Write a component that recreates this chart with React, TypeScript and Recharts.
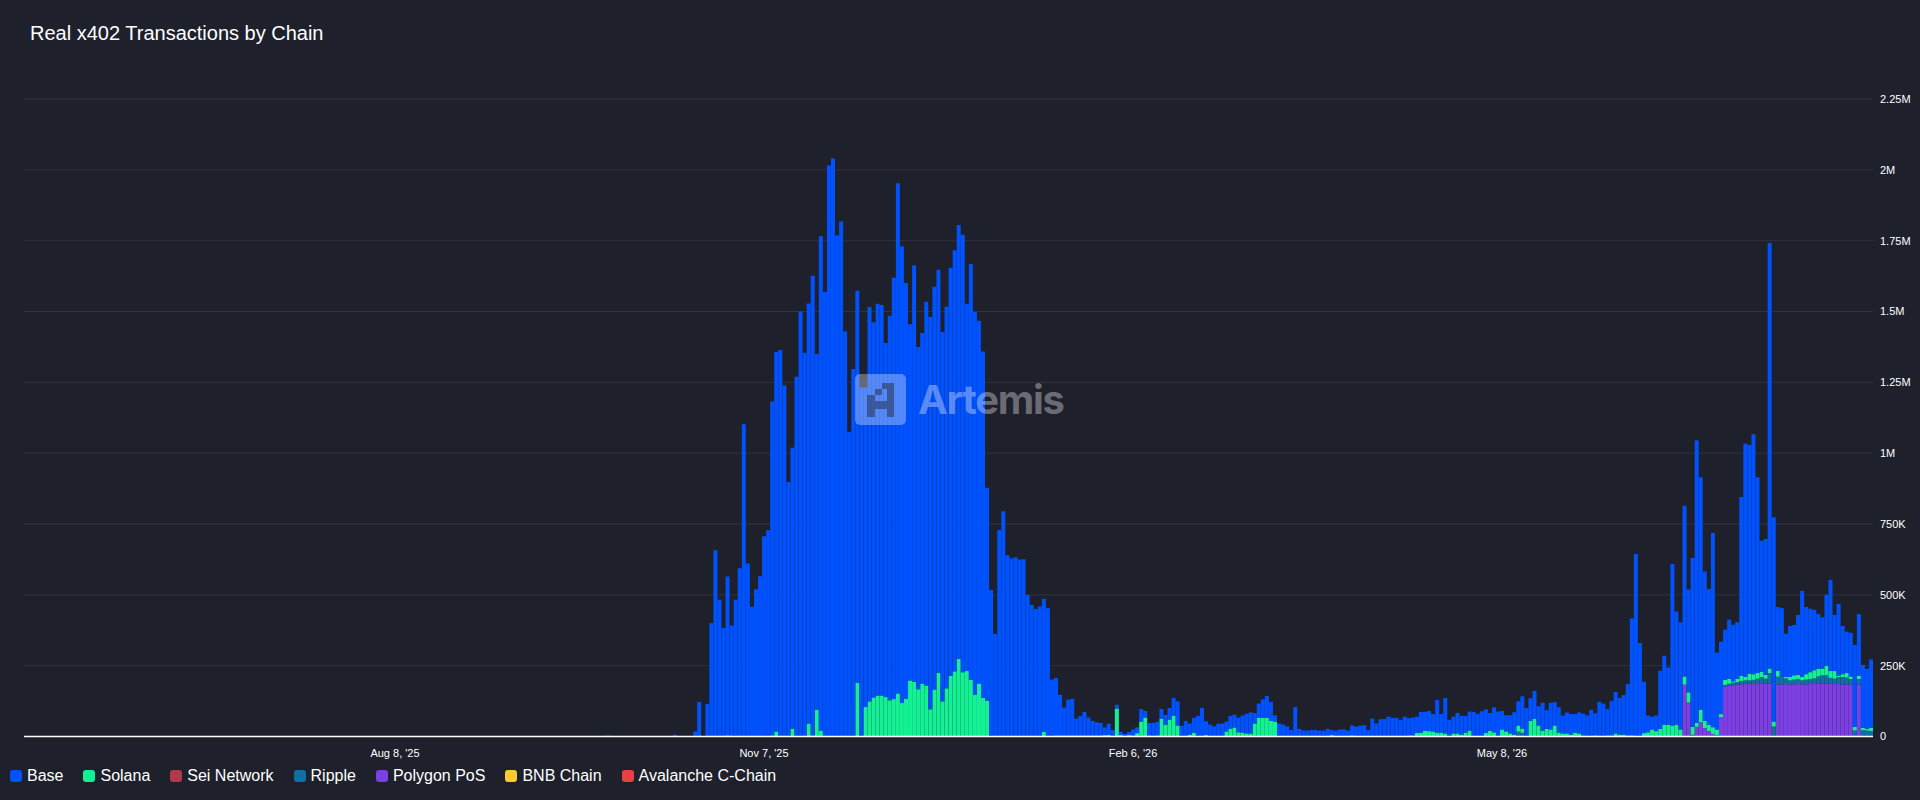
import { Bar, BarChart, CartesianGrid, Legend, XAxis, YAxis } from "recharts";

// Daily values in thousands of transactions.
// Each list starts at its *_START day (day 0 = May 9 '25); missing days are zero.
// The lists hold the height of the stack top for that series, bottom to top:
// polygon < ripple < solana < total.
const TOTAL_START = 143;
const totalTop = [
  3, 3, 0, 0, 0, 0, 0, 0, 0, 0, 0, 0, 0, 0, 0, 0, 0, 6, 0, 0, 0, 0,
  18, 122, 0, 115, 400, 657, 483, 383, 565, 392,
  483, 594, 1102, 611, 458, 520, 566, 707, 728, 1182,
  1357, 1364, 1239, 898, 1019, 1270, 1500, 1354, 1528, 1626,
  1350, 1766, 1569, 2015, 2040, 1768, 1818, 1430, 1076, 1297,
  1573, 1232, 1232, 1516, 1462, 1527, 1523, 1389, 1485, 1619,
  1953, 1730, 1601, 1455, 1663, 1375, 1424, 1534, 1481, 1587,
  1647, 1428, 1517, 1654, 1716, 1805, 1771, 1527, 1668, 1499,
  1467, 1359, 878, 517, 362, 729, 795, 640, 628, 633,
  625, 626, 499, 464, 450, 459, 485, 453, 201, 207,
  147, 102, 130, 133, 63, 72, 87, 67, 55, 50,
  48, 32, 45, 23, 112, 16, 9, 16, 25, 32,
  97, 90, 48, 48, 52, 97, 76, 101, 136, 124,
  38, 55, 46, 66, 73, 101, 54, 42, 36, 45,
  46, 53, 73, 77, 67, 74, 80, 85, 83, 116,
  131, 143, 122, 75, 46, 42, 36, 23, 104, 27,
  22, 21, 23, 23, 21, 21, 27, 23, 21, 25,
  25, 21, 39, 35, 38, 40, 23, 63, 46, 61,
  62, 70, 66, 66, 59, 70, 65, 67, 70, 87,
  87, 90, 79, 129, 80, 136, 59, 70, 83, 73,
  73, 88, 87, 80, 89, 96, 83, 103, 88, 90,
  75, 75, 86, 124, 142, 101, 135, 161, 107, 119,
  93, 119, 121, 103, 74, 85, 79, 79, 85, 81,
  75, 94, 82, 122, 116, 97, 126, 157, 136, 146,
  185, 417, 644, 330, 193, 74, 70, 74, 232, 285,
  244, 609, 441, 403, 814, 519, 630, 1045, 915, 582,
  521, 718, 296, 335, 377, 412, 394, 403, 845, 1033,
  1029, 1067, 915, 691, 697, 1742, 774, 457, 453, 363,
  390, 394, 429, 514, 457, 451, 447, 432, 421, 500,
  553, 429, 468, 390, 370, 366, 323, 432, 253, 239,
  272,
];

const SOLANA_START = 173;
const solanaTop = [
  4, 0, 0, 0, 0, 0, 0, 0, 0, 0, 0, 4, 18, 0, 0, 0, 28, 0, 0, 0, 46, 4, 95, 21,
  0, 0, 0, 0, 0, 0, 0, 0, 190, 0,
  104, 124, 138, 145, 145, 139, 128, 132, 152, 118,
  134, 198, 193, 167, 187, 180, 96, 166, 225, 124,
  170, 214, 230, 274, 227, 231, 200, 148, 187, 136, 127,
  0, 0, 0, 0, 0, 0, 3, 0, 0, 0, 0, 0, 0, 16, 3, 0,
  4, 4, 4, 4, 4, 4, 4, 4, 4, 4, 4, 4, 5, 6, 3, 99, 5, 3, 5, 4, 12,
  53, 67, 4, 3, 4, 63, 42, 60, 74, 39,
  0, 3, 7, 14, 2, 0, 5, 0, 0, 0, 0,
  18, 28, 32, 15, 14, 11, 11, 46, 67, 66, 66, 56, 53,
  0, 0, 0, 3, 3, 3, 0, 0, 3, 3, 0, 0, 0, 5, 0, 0, 0, 0, 4,
  0, 0, 0, 0, 0, 0, 0, 0, 0, 0, 0, 0, 0, 4, 4,
  13, 14, 21, 19, 18, 14, 14, 11, 0, 11, 11, 7, 14, 21, 0, 3, 3, 13, 21, 15, 0, 25, 18, 11, 7,
  39, 28, 0, 55, 63, 39, 21, 27, 25, 39, 14, 11, 11, 7, 14, 11, 4, 0, 0, 4, 0, 0, 4, 4,
  11, 7, 7, 4, 4, 0, 0,
  12, 15, 25, 19, 27, 42, 42, 39, 42, 25,
  212, 156, 34, 48, 95, 56, 41, 33, 25, 79,
  200, 204, 195, 203, 215, 210, 221, 220, 224, 229,
  218, 240, 53, 232, 211, 210, 210, 216, 218, 211,
  220, 227, 234, 240, 240, 249, 231, 231, 215, 220,
  224, 212, 34, 215, 31, 27, 31,
];

const RIPPLE_START = 368;
const rippleTop = [
  17, 13, 0, 0, 0, 0, 0, 0, 0, 0, 0, 0, 0, 0, 0, 0, 0, 0, 0, 0,
  0, 0, 0, 0, 0, 0, 0, 0, 0, 0, 0, 0, 0, 0, 0, 0, 0, 0, 0, 0, 0,
  183, 120, 6, 34, 50, 30, 19, 9, 4, 68,
  182, 186, 190, 192, 196, 198, 198, 200, 204, 210,
  204, 224, 35, 211, 209, 205, 198, 201, 203, 198,
  201, 203, 205, 212, 216, 216, 207, 204, 210, 210,
  208, 203, 21, 203, 22, 21, 19,
];

const POLYGON_START = 409;
const polygonTop = [
  183, 120, 0, 34, 50, 30, 19, 9, 4, 68,
  177, 180, 181, 183, 184, 185, 186, 185, 186, 186,
  187, 186, 0, 183, 184, 185, 184, 184, 185, 184,
  184, 185, 186, 187, 187, 187, 186, 185, 185, 184,
  184, 183, 0, 183, 0, 0, 0,
];

const DAY_COUNT = 456;
const xTicks = ["Aug 8, '25", "Nov 7, '25", "Feb 6, '26", "May 8, '26"];
const yTicks = [0, 250e3, 500e3, 750e3, 1e6, 1.25e6, 1.5e6, 1.75e6, 2e6, 2.25e6];

const BG = "#1e202b";

const seriesOrder = ["Base", "Solana", "Sei Network", "Ripple", "Polygon PoS", "BNB Chain", "Avalanche C-Chain"];
const seriesColors: Record<string, string> = {
  Base: "#0052fe",
  Solana: "#14f195",
  "Sei Network": "#b23a48",
  Ripple: "#126fa6",
  "Polygon PoS": "#7b3fe4",
  "BNB Chain": "#ffcb2f",
  "Avalanche C-Chain": "#e84142",
};

function dayLabel(i: number): string {
  const d = new Date(Date.UTC(2025, 4, 9 + i));
  const md = d.toLocaleDateString("en-US", { month: "short", day: "numeric", timeZone: "UTC" });
  return `${md}, '${String(d.getUTCFullYear()).slice(2)}`;
}

function read(list: number[], start: number, i: number): number {
  return list[i - start] ?? 0;
}

const tableData = Array.from({ length: DAY_COUNT }, (_, i) => {
  const polygon = read(polygonTop, POLYGON_START, i);
  const ripple = Math.max(read(rippleTop, RIPPLE_START, i), polygon);
  const solana = Math.max(read(solanaTop, SOLANA_START, i), ripple);
  const total = Math.max(read(totalTop, TOTAL_START, i), solana);
  return {
    day: dayLabel(i),
    avalanche: 0,
    bnb: 0,
    polygon: polygon * 1000,
    ripple: (ripple - polygon) * 1000,
    sei: 0,
    solana: (solana - ripple) * 1000,
    base: (total - solana) * 1000,
  };
});

function formatY(v: number): string {
  if (v === 0) return "0";
  if (v >= 1e6) return `${v / 1e6}M`;
  return `${v / 1e3}K`;
}

/* eslint-disable @typescript-eslint/no-explicit-any */
function ChainLegend(props: any) {
  const items = [...(props.payload ?? [])].sort(
    (a: any, b: any) => seriesOrder.indexOf(a.value) - seriesOrder.indexOf(b.value),
  );
  return (
    <div style={{ display: "flex", alignItems: "center", height: 24, fontSize: 16, color: "#fff" }}>
      {items.map((item: any) => (
        <div key={item.value} style={{ display: "flex", alignItems: "center", marginRight: 20 }}>
          <span
            style={{
              width: 12,
              height: 12,
              borderRadius: 3,
              marginRight: 5,
              backgroundColor: item.color,
            }}
          />
          {item.value}
        </div>
      ))}
    </div>
  );
}
/* eslint-enable @typescript-eslint/no-explicit-any */

function Watermark() {
  return (
    <div style={{ position: "absolute", left: 0, top: 0, width: 1920, height: 800, pointerEvents: "none" }}>
      <svg width={1920} height={800} style={{ position: "absolute", left: 0, top: 0 }}>
        <rect x={855} y={374} width={51} height={51} rx={5} fill="#fff" fillOpacity={0.32} />
        <g fill="#1e202b" fillOpacity={0.45}>
          <rect x={882} y={383} width={12} height={6} />
          <rect x={875} y={389} width={7} height={6} />
          <rect x={887} y={389} width={7} height={28} />
          <rect x={867} y={395} width={8} height={22} />
          <rect x={875} y={401} width={12} height={8} />
        </g>
        <text
          x={918}
          y={414}
          fill="#fff"
          fillOpacity={0.34}
          fontFamily="Inter, sans-serif"
          fontWeight={700}
          fontSize={40}
          letterSpacing={-1.3}
        >
          Artemis
        </text>
      </svg>
    </div>
  );
}

export default function App() {
  const tickStyle = { fill: "#fff", fontSize: 11, fontFamily: "'Liberation Sans', sans-serif" };
  return (
    <div
      style={{
        position: "absolute",
        left: 0,
        top: 0,
        width: 1920,
        height: 800,
        background: BG,
        fontFamily: "'Liberation Sans', sans-serif",
        overflow: "hidden",
      }}
    >
      <div style={{ position: "absolute", left: 30, top: 21, fontSize: 20, lineHeight: "24px", color: "#fff" }}>
        Real x402 Transactions by Chain
      </div>
      <BarChart
        width={1920}
        height={800}
        data={tableData}
        stackOffset="none"
        barCategoryGap={0.1}
        margin={{ top: 99, right: 0, bottom: 0, left: 24 }}
      >
        <CartesianGrid vertical={false} stroke="#30323d" strokeWidth={1} />
        <XAxis
          dataKey="day"
          ticks={xTicks}
          interval={0}
          height={32}
          tickLine={false}
          axisLine={{ stroke: "#fff", strokeWidth: 1.5 }}
          tick={tickStyle}
          tickMargin={7}
        />
        <YAxis
          orientation="right"
          domain={[0, 2250000]}
          ticks={yTicks}
          width={47}
          tickLine={false}
          axisLine={false}
          tick={tickStyle}
          tickMargin={1}
          tickFormatter={formatY}
        />
        <Legend
          content={<ChainLegend />}
          verticalAlign="bottom"
          align="left"
          height={31.5}
          wrapperStyle={{ left: 10, bottom: 5, width: 1000 }}
        />
        <Bar dataKey="avalanche" name="Avalanche C-Chain" stackId="tx" fill={seriesColors["Avalanche C-Chain"]} isAnimationActive={false} />
        <Bar dataKey="bnb" name="BNB Chain" stackId="tx" fill={seriesColors["BNB Chain"]} isAnimationActive={false} />
        <Bar dataKey="polygon" name="Polygon PoS" stackId="tx" fill={seriesColors["Polygon PoS"]} isAnimationActive={false} />
        <Bar dataKey="ripple" name="Ripple" stackId="tx" fill={seriesColors.Ripple} isAnimationActive={false} />
        <Bar dataKey="sei" name="Sei Network" stackId="tx" fill={seriesColors["Sei Network"]} isAnimationActive={false} />
        <Bar dataKey="solana" name="Solana" stackId="tx" fill={seriesColors.Solana} isAnimationActive={false} />
        <Bar dataKey="base" name="Base" stackId="tx" fill={seriesColors.Base} isAnimationActive={false} />
      </BarChart>
      <Watermark />
    </div>
  );
}
